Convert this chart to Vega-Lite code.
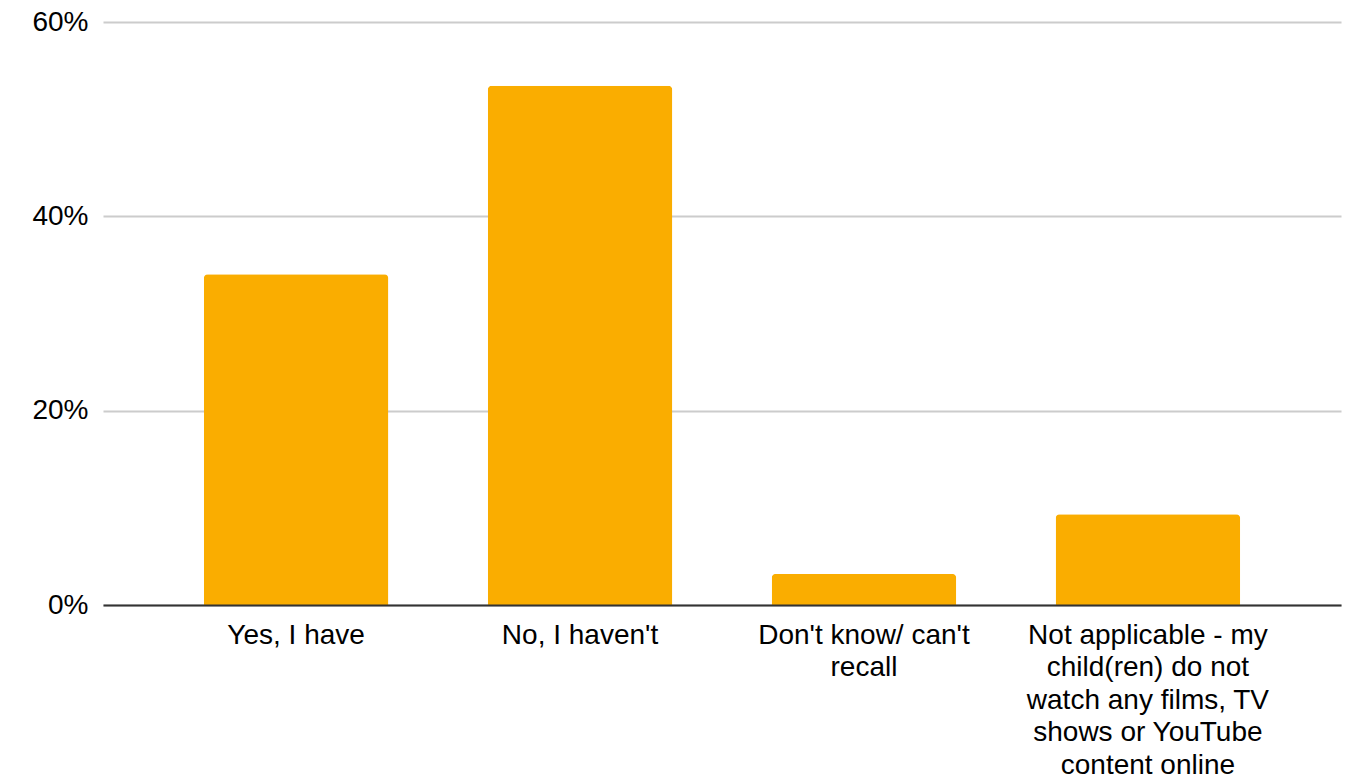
{
  "$schema": "https://vega.github.io/schema/vega-lite/v6.json",
  "width": 1238,
  "height": 583,
  "autosize": "none",
  "padding": {"left": 103, "top": 22, "right": 23, "bottom": 176},
  "background": "white",
  "data": {
    "values": [
      {"answer": "Yes, I have", "share": 0.3405},
      {"answer": "No, I haven't", "share": 0.5345},
      {"answer": "Don't know/ can't recall", "share": 0.032},
      {"answer": "Not applicable - my child(ren) do not watch any films, TV shows or YouTube content online", "share": 0.0935}
    ]
  },
  "mark": {"type": "bar", "color": "#FAAD00", "cornerRadiusTopLeft": 4, "cornerRadiusTopRight": 4},
  "encoding": {
    "x": {
      "field": "answer",
      "type": "nominal",
      "sort": null,
      "scale": {"paddingInner": 0.35, "paddingOuter": 0.355},
      "axis": {
        "title": null,
        "labelAngle": 0,
        "ticks": false,
        "domainColor": "#333333",
        "domainWidth": 2,
        "labelFont": "Liberation Sans",
        "labelFontSize": 28,
        "labelColor": "#000000",
        "labelPadding": 16,
        "labelLineHeight": 32.5,
        "labelLimit": 400,
        "labelBaseline": "top",
        "zindex": 1,
        "labelExpr": "datum.value == \"Don't know/ can't recall\" ? [\"Don't know/ can't\", \"recall\"] : (indexof(datum.value, 'Not applicable') == 0 ? ['Not applicable - my', 'child(ren) do not', 'watch any films, TV', 'shows or YouTube', 'content online'] : datum.value)"
      }
    },
    "y": {
      "field": "share",
      "type": "quantitative",
      "scale": {"domain": [0, 0.6]},
      "axis": {
        "title": null,
        "values": [0, 0.2, 0.4, 0.6],
        "format": ".0%",
        "domain": false,
        "ticks": false,
        "gridColor": "#cccccc",
        "gridWidth": 2,
        "labelFont": "Liberation Sans",
        "labelFontSize": 28,
        "labelColor": "#000000",
        "labelPadding": 15
      }
    }
  },
  "config": {"view": {"stroke": null}}
}
